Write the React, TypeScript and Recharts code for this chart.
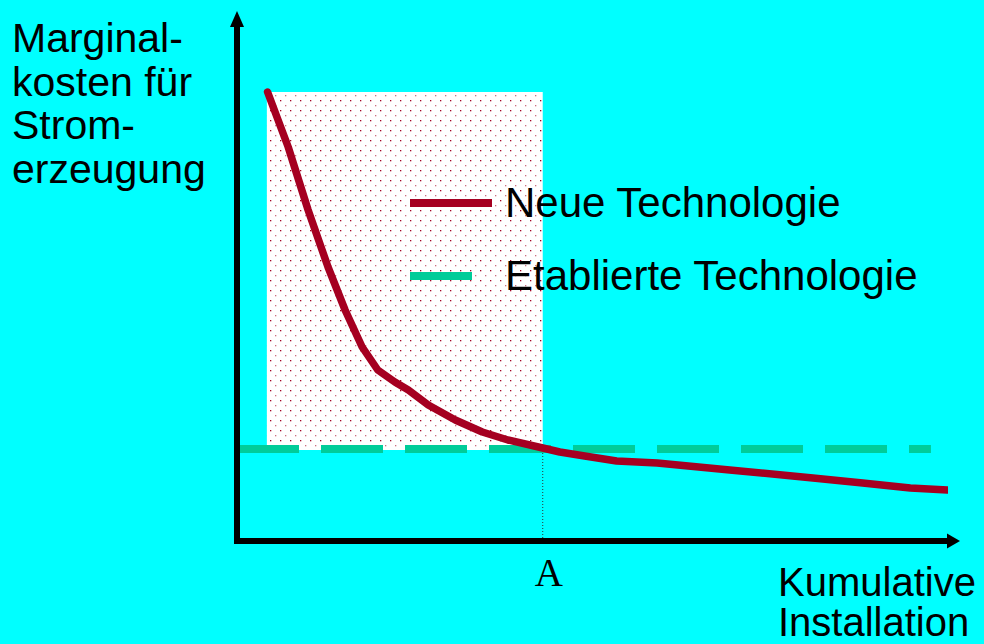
import {
  ComposedChart,
  Line,
  XAxis,
  YAxis,
  ReferenceArea,
  ReferenceLine,
  ReferenceDot,
  Legend,
} from 'recharts'

// x = cumulative installation (0..100), y = marginal cost (0..103)
const installation = [
  4.3, 7.2, 10.0, 12.8, 15.2, 17.6, 19.8, 22.2, 24.1, 26.9, 30.7, 34.5, 38.1,
  43.0, 45.4, 48.9, 53.4, 59.1, 69.3, 81.0, 88.0, 94.7, 99.9,
]
const neueKosten = [
  89.8, 78.8, 66.2, 54.8, 46.2, 38.8, 34.2, 31.8, 30.2, 27.2, 24.2, 21.8, 20.2,
  18.6, 17.8, 17.0, 16.0, 15.6, 14.2, 12.6, 11.6, 10.6, 10.2,
]
const etabliertX = [0, 97.6]
const etabliertKosten = [18.4, 18.4]

const punktA = 43
const flaecheStart = 4.2
const flaecheOben = 89.8
const flaecheUnten = 18.2

const legendLabels = ['Neue Technologie', 'Etablierte Technologie']
const yLabel = ['Marginal-', 'kosten für', 'Strom-', 'erzeugung']
const xLabel = ['Kumulative', 'Installation']

const neueData = installation.map((x, i) => ({ x, y: neueKosten[i] }))
const etabliertData = etabliertX.map((x, i) => ({ x, y: etabliertKosten[i] }))

const RED = '#A50021'
const GREEN = '#00CC99'
const CYAN = '#00FFFF'
const SANS = '"Liberation Sans", Arial, sans-serif'

function LegendBox() {
  const colors = [RED, GREEN]
  const lens = [82, 62]
  return (
    <div style={{ display: 'flex', flexDirection: 'column', gap: 31 }}>
      {legendLabels.map((label, i) => (
        <div key={label} style={{ display: 'flex', alignItems: 'center', height: 42 }}>
          <div style={{ width: 95, flexShrink: 0 }}>
            <div style={{ width: lens[i], height: 8, background: colors[i] }} />
          </div>
          <span style={{ fontFamily: SANS, fontSize: 42, lineHeight: '42px', color: '#000', whiteSpace: 'nowrap' }}>
            {label}
          </span>
        </div>
      ))}
    </div>
  )
}

function ATick(props: any) {
  const { x, y } = props
  return (
    <text x={x + 6} y={y + 45} textAnchor="middle" fontFamily='"Liberation Serif", "Times New Roman", serif' fontSize={39} fill="#000">
      A
    </text>
  )
}

const axisStyle = { stroke: '#000', strokeWidth: 6, strokeLinecap: 'square' as const }

export default function App() {
  return (
    <div style={{ position: 'absolute', left: 0, top: 0, width: 984, height: 644, background: CYAN, overflow: 'hidden' }}>
      <svg width={0} height={0} style={{ position: 'absolute' }}>
        <defs>
          <pattern id="dots" width="10" height="10" patternUnits="userSpaceOnUse">
            <rect width="10" height="10" fill="#fff" />
            <rect x="0" y="0" width="1.3" height="1.3" fill={RED} />
            <rect x="5" y="5" width="1.3" height="1.3" fill="#c8707f" />
          </pattern>
        </defs>
      </svg>

      {/* Y label */}
      <div style={{ position: 'absolute', left: 12, top: 17, fontFamily: SANS, fontSize: 41, lineHeight: '43.5px', color: '#000' }}>
        {yLabel.map((l) => (
          <div key={l}>{l}</div>
        ))}
      </div>
      {/* X label */}
      <div style={{ position: 'absolute', left: 778, top: 562, fontFamily: SANS, fontSize: 40, lineHeight: '40px', color: '#000', whiteSpace: 'nowrap' }}>
        {xLabel.map((l) => (
          <div key={l}>{l}</div>
        ))}
      </div>

      <ComposedChart
        width={984}
        height={644}
        margin={{ top: 26, right: 36, bottom: 0, left: 0 }}
        style={{ position: 'absolute', left: 0, top: 0 }}
      >
        <XAxis
          dataKey="x"
          type="number"
          domain={[0, 100]}
          ticks={[punktA]}
          tick={<ATick />}
          tickLine={false}
          tickSize={0}
          tickMargin={0}
          height={103}
          axisLine={axisStyle}
          allowDataOverflow
        />
        <YAxis
          type="number"
          domain={[0, 103]}
          tick={false}
          tickLine={false}
          width={237}
          axisLine={axisStyle}
          allowDataOverflow
        />
        <ReferenceArea
          x1={flaecheStart}
          x2={punktA}
          y1={flaecheUnten}
          y2={flaecheOben}
          fill="url(#dots)"
          fillOpacity={1}
          stroke="none"
          ifOverflow="visible"
        />
        <ReferenceLine
          segment={[{ x: punktA, y: 0 }, { x: punktA, y: flaecheUnten }]}
          stroke="#333"
          strokeWidth={1}
          strokeDasharray="1 2"
          ifOverflow="visible"
        />
        <Line
          data={etabliertData}
          dataKey="y"
          name={legendLabels[1]}
          type="linear"
          stroke={GREEN}
          strokeWidth={8}
          strokeDasharray="62 22"
          dot={false}
          activeDot={false}
          isAnimationActive={false}
        />
        <Line
          data={neueData}
          dataKey="y"
          name={legendLabels[0]}
          type="linear"
          stroke={RED}
          strokeWidth={7.5}
          strokeLinecap="round"
          strokeLinejoin="round"
          dot={false}
          activeDot={false}
          isAnimationActive={false}
        />
        <ReferenceDot
          x={0}
          y={103}
          r={1}
          ifOverflow="visible"
          shape={(p: any) => (
            <polygon points={`${p.cx - 7},${p.cy + 1} ${p.cx + 7},${p.cy + 1} ${p.cx},${p.cy - 15}`} fill="#000" />
          )}
        />
        <ReferenceDot
          x={100}
          y={0}
          r={1}
          ifOverflow="visible"
          shape={(p: any) => (
            <polygon points={`${p.cx - 1},${p.cy - 7.5} ${p.cx - 1},${p.cy + 7.5} ${p.cx + 12},${p.cy}`} fill="#000" />
          )}
        />
        <Legend
          layout="vertical"
          align="center"
          verticalAlign="middle"
          content={() => <LegendBox />}
          wrapperStyle={{ left: 410, top: 182, width: 'auto', height: 'auto' }}
        />
      </ComposedChart>
    </div>
  )
}
